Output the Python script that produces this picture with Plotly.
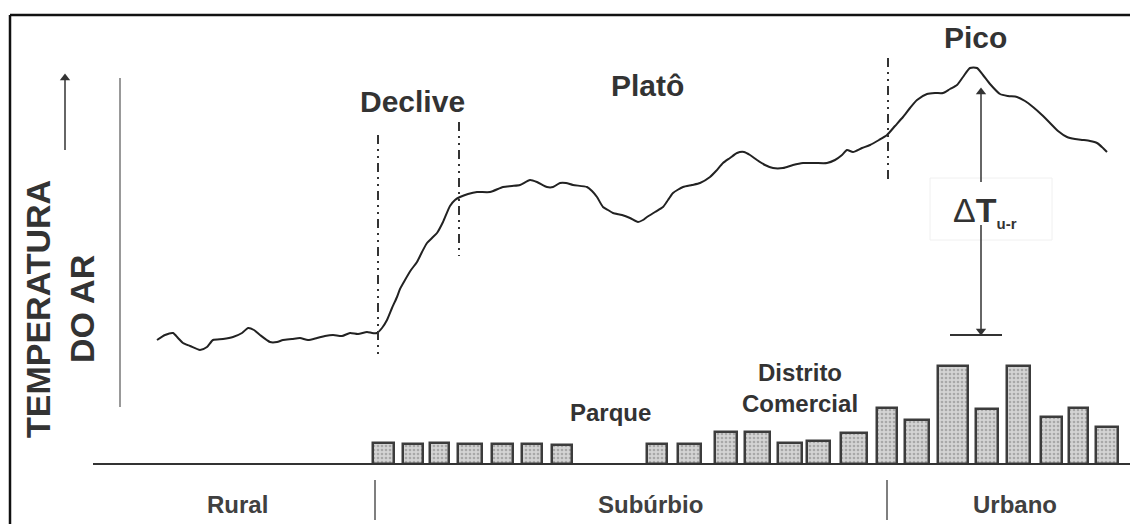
import plotly.graph_objects as go

# ---- data (distance along transect, air temperature in arbitrary units) ----
distance = [157,165,173,178,183,190,200,207,213,223,233,242,248,254,260,270,277,283,292,300,
            308,317,325,333,342,350,358,367,372,377,382,387,392,397,400,405,411,417,422,427,
            432,437,443,450,455,460,468,477,490,503,512,520,530,537,547,553,560,566,573,587,
            592,597,603,608,613,622,630,638,643,647,655,663,668,673,683,692,700,710,716,723,
            730,737,744,750,757,765,773,783,793,803,815,827,835,842,847,853,862,870,879,887,
            895,903,910,917,927,935,943,950,957,963,970,977,983,990,1000,1008,1017,1025,1033,1042,
            1050,1058,1067,1075,1083,1090,1097,1103,1107]
temperature = [184,189,191,186,181,178,174,177,184,185,187,191,196,194,189,182,182,184,185,186,
               184,186,188,189,188,191,190,192,191,191,196,204,216,227,235,244,254,262,272,281,
               286,291,302,318,324,327,330,332,332,337,338,339,344,342,337,337,341,341,339,337,
               333,327,317,314,311,309,306,302,304,307,312,317,324,331,337,339,341,347,353,361,
               366,371,372,369,364,359,356,356,359,361,361,361,364,369,374,372,376,379,384,389,
               398,407,416,424,430,431,431,435,439,447,456,456,449,440,430,428,427,423,417,409,
               401,393,387,385,384,383,381,376,372]

# buildings: centre position, footprint width, height
building_pos = [383.5,413,439.5,470,502.5,532,562,657,689.5,726,757.5,790,818.5,854,
                887,917,953,987,1018.5,1051.5,1078.5,1107]
building_width = [21,20,19,24,21,20,20,20,23,22,25,24,23,26,20,24,30,22,23,21,19,22]
building_height = [21,20,21,20,20,20,19,20,20,32,32,21,23,31,56,44,98,55,98,47,56,37]
ground_level = 60

zones = ["Rural", "Subúrbio", "Urbano"]
zone_centres = [237, 650, 1015]
zone_bounds = [375, 887]

TXT = "#333333"
FONT = "Liberation Sans, Arial, sans-serif"

fig = go.Figure()

fig.add_trace(go.Bar(
    x=building_pos, y=building_height, width=building_width, base=ground_level,
    marker=dict(color="#d2d2d2", line=dict(color="#3c3c3c", width=2.5),
                pattern=dict(shape=".", fgcolor="#a8a8a8", bgcolor="#d4d4d4",
                             size=4, solidity=0.35, fillmode="replace")),
    hoverinfo="skip", showlegend=False))

fig.add_trace(go.Scatter(
    x=distance, y=temperature, mode="lines",
    line=dict(color="#222222", width=2, shape="spline", smoothing=0.6),
    hoverinfo="skip", showlegend=False))

shapes = []
# frame (top and left)
shapes.append(dict(type="line", x0=10, x1=1138, y0=509, y1=509, line=dict(color="#111", width=2.5)))
shapes.append(dict(type="line", x0=10, x1=10, y0=509, y1=0, line=dict(color="#111", width=2.5)))
# ground line
shapes.append(dict(type="line", x0=93, x1=1138, y0=ground_level, y1=ground_level, line=dict(color="#333", width=2)))
# zone separators
for b in zone_bounds:
    shapes.append(dict(type="line", x0=b, x1=b, y0=44, y1=4, line=dict(color="#555", width=1.5)))
# temperature axis line
shapes.append(dict(type="line", x0=120, x1=120, y0=446, y1=117, line=dict(color="#777", width=1.5)))
# dash-dot boundaries
dd = "9px,5px,2px,5px,2px,5px"
for (xx, y0, y1) in [(378, 389, 166), (459, 402, 268), (888, 466, 344)]:
    shapes.append(dict(type="line", x0=xx, x1=xx, y0=y0, y1=y1, line=dict(color="#333", width=2, dash=dd)))
# delta T bottom bar
shapes.append(dict(type="line", x0=950, x1=1002, y0=189, y1=189, line=dict(color="#333", width=2)))
# faint label box
shapes.append(dict(type="rect", x0=930, x1=1052, y0=284, y1=346, line=dict(color="#f0f0f0", width=1)))
# delta T arrow shafts and temperature arrow shaft
shapes.append(dict(type="line", x0=981, x1=981, y0=430, y1=342, line=dict(color="#333", width=1.5)))
shapes.append(dict(type="line", x0=981, x1=981, y0=195, y1=299, line=dict(color="#333", width=1.5)))
shapes.append(dict(type="line", x0=65, x1=65, y0=374, y1=444, line=dict(color="#333", width=1.5)))

ann = []
def txt(x, y, t, size, bold=True, color=TXT, **kw):
    ann.append(dict(x=x, y=y, xref="x", yref="y", text=f"<b>{t}</b>" if bold else t,
                    showarrow=False, font=dict(family=FONT, size=size, color=color), **kw))

txt(412, 423, "Declive", 30)
txt(647, 439, "Platô", 30)
txt(975, 487, "Pico", 30)
txt(610, 112, "Parque", 24)
txt(800, 136, "Distrito<br>Comercial", 24)
for z, c in zip(zones, zone_centres):
    txt(c, 20, z, 24, color="#404040")
txt(60, 215, "TEMPERATURA<br>DO AR", 34, textangle=-90)
txt(985, 313, "Δ<b>T</b><sub><span style='font-size:15px'><b>u-r</b></span></sub>", 34, bold=False)

# arrow heads
fig.add_trace(go.Scatter(
    x=[65, 981, 981], y=[446, 432, 193], mode="markers",
    marker=dict(symbol=["triangle-up", "triangle-up", "triangle-down"], size=9, color="#333"),
    hoverinfo="skip", showlegend=False))

fig.update_layout(
    width=1130, height=516, margin=dict(l=0, r=0, t=0, b=0),
    paper_bgcolor="white", plot_bgcolor="white",
    xaxis=dict(range=[8, 1138], visible=False, fixedrange=True),
    yaxis=dict(range=[0, 516], visible=False, fixedrange=True),
    shapes=shapes, annotations=ann, bargap=0)

fig.write_html("out.html")
